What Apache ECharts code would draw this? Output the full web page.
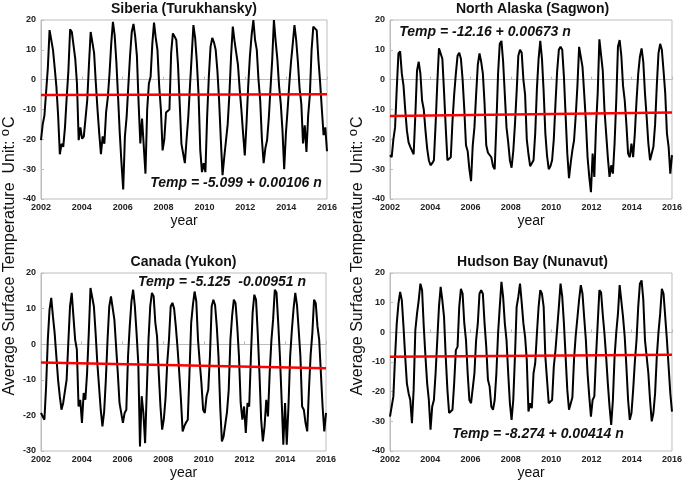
<!DOCTYPE html>
<html>
<head>
<meta charset="utf-8">
<script src="https://cdn.jsdelivr.net/npm/echarts@6/dist/echarts.min.js"></script>
<style>
  html, body { margin: 0; padding: 0; background: #fff; }
  #chart { width: 685px; height: 485px; }
</style>
</head>
<body>
<div id="chart"></div>
<script>
// monthly mean surface temperature, Jan 2002 .. Dec 2015 (one row per year)
const startYear = 2002;
const endYear = 2016;

const siberia = [
  -20.3, -15, -12, -11.4, 4, 16.6, 16, 10, 4, -2.4, -12, -25,
  -21.5, -22.5, -16, -6, 3, 16.9, 16, 15.5, 7, -1.3, -20.3, -16,
  -19.8, -19, -13, -6.9, 5, 16, 15.5, 9, -1, -10, -18, -25,
  -19, -21.5, -11, -6, 2, 12, 19.4, 15, 6, -5.8, -18, -28,
  -36.8, -19, -12.5, -2, 8, 16, 18.7, 14.5, 8, -8, -21.4, -13,
  -13, -31.5, -10, -1.3, 1, 12, 19.1, 14, 10, -2, -10, -23.7,
  -20, -11, -10.5, -10, 9, 15.5, 14.5, 13.3, 5, -8, -21.5, -22,
  -28, -20, -12.5, -2, 8, 18.3, 14, 6, -5, -23.7, -31, -28,
  -31, -12.5, 1, 11, 14, 12.5, 10, 3, -7, -20, -32, -26,
  -26, -15, -5, 8, 17.8, 13, 9, 5, -3, -10, -18, -25.4,
  -14.7, -2, 8, 15, 20, 13.3, 10, 0, -7, -20, -28, -23,
  -20.3, -13, -3, 6.6, 20, 13, 7, -2, -8, -17, -30, -18,
  -10, -1.3, 6, 12, 18.3, 13.3, 6, -3, -8, -21.4, -15.3, -24.2,
  -12, -5, 10, 17.8, 17.5, 16.5, 6.6, -1, -10, -18.6, -16, -24
];

const alaska = [
  -25.3, -26, -20, -16, -3, 8.8, 9.5, 2, -2, -10, -17, -21,
  -22.5, -22, -25, -12, 3, 6, 2, -7, -10, -17, -23, -27,
  -28.7, -28, -27, -15, -1.3, 10.5, 11, 7, -4, -16, -27, -27.5,
  -26, -14, -5, 2, 8, 9, 7, 0, -10, -22, -24, -30,
  -34, -22, -16, -5, 5, 8.8, 6, 2, -8, -22, -24.5, -25,
  -26, -29, -30, -15, 2, 12, 13, 6, -5, -16, -21, -27,
  -29.5, -24, -15, -4, 8, 10, 9, 0, -5, -20, -25, -29,
  -28, -27, -18, -3, 7, 13, 7, -4, -18, -25.5, -30, -29,
  -27, -20, -8, 3, 10, 11, 10, 1, -12, -24.8, -33, -28,
  -23.7, -20.3, -12, -2, 11, 11, 4.3, -4.6, -14, -26, -32.6, -37.7,
  -24.8, -32.6, -15.8, -4.6, 13.5, 13, 3, -10, -18, -26, -32.6, -28.7,
  -31.5, -21.4, -6.9, 11, 13.3, 8, -2, -6.9, -15, -24.8, -26, -21.4,
  -26, -18, -7, 2, 7.7, 10.5, 6, -4.6, -12.5, -21.4, -27, -26.5,
  -22.5, -15, -2, 8.8, 12, 10, 3, -4.6, -18, -22.5, -31.5, -25.3
];

const yukon = [
  -19.3, -20.3, -21.2, -11.8, 1.3, 9.7, 13, 7.8, 3.1, -3.4, -10, -14.6,
  -18.4, -16.5, -16.5, -10, 0.3, 10.6, 14.4, 7.8, 1.3, -1.5, -17.5, -15.6,
  -22.1, -13.7, -15.6, -8.1, 3.1, 15.8, 15.3, 10.6, 3.1, -5.3, -11.8, -18.4,
  -23.1, -19, -10, 1.3, 10.6, 13.4, 13, 6.9, -0.6, -8.1, -16.5, -16.5,
  -22.1, -19.3, -18.4, -3.4, 5, 12, 15.3, 10.6, 3.1, -5.3, -28.7, -14.6,
  -19.3, -27.8, -12.8, 1.3, 10.6, 14.4, 13.5, 6, 2.2, -8.1, -17.5, -24,
  -21, -15, -5, 1.3, 10.6, 11.6, 10, 5, -1, -8, -15.6, -24.5,
  -23, -22, -21.2, -8.1, 6, 11, 14.8, 12, 1.3, -5, -10.9, -18.4,
  -19.3, -14.6, -12.8, -3.4, 10.6, 12.5, 11, 5, -3.4, -17.5, -27.3, -25.9,
  -25.9, -19, -12.8, 1.3, 8, 12.5, 11.5, 5, -3.4, -16.5, -21.2, -17.5,
  -24.9, -16.5, -17.5, -3.4, 8.8, 13.9, 12.5, 3.1, -8.1, -21.2, -27.3, -23.1,
  -15.6, -20.3, -8.1, 1, 6.9, 15.3, 14.5, 6, -3.4, -15.6, -28.2, -16.5,
  -28.2, -17.5, -3.4, 4, 10, 14.4, 11, 4, -3.4, -17.5, -18.4, -22.1,
  -24.5, -12.8, -3, 3.1, 12.5, 11.5, 5, 1.3, -8.1, -17.5, -24.5, -19.3
];

const hudson = [
  -28.4, -28.9, -21.6, -8.2, 3, 9.7, 13.6, 10.8, 1.9, -8.2, -17.2, -20.5,
  -22.8, -30.6, -19.4, 0.7, 6.3, 10.8, 16.4, 14.2, 1.9, -8.2, -17.2, -22.8,
  -32.8, -25, -22.8, -13.8, -2.6, 8.6, 15.3, 10.8, 5.2, -8.2, -19.4, -27.2,
  -26.7, -26.1, -17.2, -6, -4.9, 8.6, 14.7, 13, 3, -2.6, -13.8, -22.8,
  -23.9, -23.9, -13.8, -2.6, 3, 13, 14.2, 13, 3, -4.9, -16, -18.3,
  -25, -26.1, -22.8, -13.8, -0.4, 8.6, 17, 11.9, 3, -2.6, -13.8, -23.9,
  -29.5, -22.8, -8.2, 8.6, 12, 16.4, 10, 3, -1.5, -9.3, -26.7, -23.9,
  -25.6, -13.8, -10.4, -0.4, 8.6, 14.2, 13, 8.6, -8.2, -16, -23.9, -23.3,
  -22.8, -11.6, -6, -5.4, 8.6, 16.4, 12, 3, -8.2, -19.4, -26.1, -26.7,
  -22, -9, -1, 5, 11, 15.9, 13, 5, -2.6, -13.8, -21.6, -28.4,
  -22.8, -21.6, -8.2, 3, 14.2, 13.5, 6, -0.4, -8.2, -17.2, -25, -31.2,
  -22.8, -8.2, 0, 6.3, 15.9, 15.3, 5.2, -1.5, -11.6, -22.8, -29.5, -27.2,
  -19.4, -10, -2.6, 8.6, 16.4, 17.5, 11, -2.6, -8.2, -13.8, -22.8, -30,
  -27.2, -20.5, -8.2, 0, 6.3, 14.7, 13, 5.2, -2.6, -11.6, -20.5, -26.7
];

// linear fits, Temp = a + b n  (n = month number 1..168)
const trendA = [-5.099, -12.16, -5.125, -8.274];
const trendB = [0.00106, 0.00673, -0.00951, 0.00414];

const titles = ['Siberia (Turukhansky)', 'North Alaska (Sagwon)', 'Canada (Yukon)', 'Hudson Bay (Nunavut)'];
const equations = ['Temp = -5.099 + 0.00106 n', 'Temp = -12.16 + 0.00673 n', 'Temp = -5.125  -0.00951 n', 'Temp = -8.274 + 0.00414 n'];
const yMin = [-40, -40, -30, -40];
const yMax = [20, 20, 20, 20];

const allSeries = [siberia, alaska, yukon, hudson];

// panel boxes (px)
const boxes = [
  { left: 41, top: 20, width: 286, height: 179 },
  { left: 390, top: 20, width: 285, height: 179 },
  { left: 41, top: 273, width: 285, height: 178 },
  { left: 390, top: 273, width: 285, height: 178 }
];
const eqPos = [[236, 183], [485, 32], [222, 282], [538, 434]];

const FONT = 'Liberation Sans, Arial, sans-serif';
const AXIS_COLOR = '#bdbdbd';

function toPoints(vals) {
  const step = (endYear - startYear) / (vals.length - 1);
  return vals.map((v, i) => [startYear + i * step, v]);
}

let grids = [], xAxes = [], yAxes = [], series = [], texts = [];

boxes.forEach((b, k) => {
  grids.push({
    left: b.left, top: b.top, width: b.width, height: b.height,
    show: true, borderColor: AXIS_COLOR, borderWidth: 1, backgroundColor: 'transparent'
  });
  xAxes.push({
    gridIndex: k, type: 'value', min: startYear, max: endYear, interval: 2,
    name: 'year', nameLocation: 'middle', nameGap: 15,
    nameTextStyle: { fontFamily: FONT, fontSize: 14, color: '#111' },
    axisLine: { lineStyle: { color: AXIS_COLOR } },
    axisTick: { inside: true, length: 3, lineStyle: { color: AXIS_COLOR } },
    axisLabel: { fontFamily: FONT, fontSize: 9, fontWeight: 'bold', color: '#222', margin: 4, formatter: v => String(v) },
    splitLine: { show: false }
  });
  yAxes.push({
    gridIndex: k, type: 'value', min: yMin[k], max: yMax[k], interval: 10,
    axisLine: { show: true, lineStyle: { color: AXIS_COLOR } },
    axisTick: { show: true, inside: true, length: 3, lineStyle: { color: AXIS_COLOR } },
    axisLabel: { fontFamily: FONT, fontSize: 9, fontWeight: 'bold', color: '#222', margin: 5 },
    splitLine: { show: false }
  });
  const pts = toPoints(allSeries[k]);
  series.push({
    type: 'line', xAxisIndex: k, yAxisIndex: k, data: pts,
    showSymbol: false, symbol: 'none', silent: true,
    lineStyle: { color: '#000', width: 2 }, z: 2
  });
  const n = allSeries[k].length;
  series.push({
    type: 'line', xAxisIndex: k, yAxisIndex: k,
    data: [[pts[0][0], trendA[k] + trendB[k] * 1], [pts[n - 1][0], trendA[k] + trendB[k] * n]],
    showSymbol: false, symbol: 'none', silent: true,
    lineStyle: { color: '#ff0000', width: 2.5 }, z: 3
  });
  texts.push({
    type: 'text', x: b.left + b.width / 2, y: b.top - 11,
    style: { text: titles[k], font: 'bold 14px ' + FONT, fill: '#111', align: 'center', verticalAlign: 'middle' }
  });
  texts.push({
    type: 'text', x: eqPos[k][0], y: eqPos[k][1], z: 10,
    style: { text: equations[k], font: 'italic bold 14px ' + FONT, fill: '#111', align: 'center', verticalAlign: 'middle' }
  });
});

// y axis labels, left and right columns
[10, 358].forEach(x => {
  texts.push({
    type: 'text', x: x, y: 145, rotation: Math.PI / 2,
    style: {
      text: 'Unit: {o|o}C', font: '16px ' + FONT, fill: '#111', align: 'center', verticalAlign: 'middle',
      rich: { o: { font: '13px ' + FONT, fill: '#111', padding: [0, 1, 9, 0] } }
    }
  });
  texts.push({
    type: 'text', x: x, y: 289, rotation: Math.PI / 2,
    style: { text: 'Average Surface Temperature', font: '16px ' + FONT, fill: '#111', align: 'center', verticalAlign: 'middle' }
  });
});

const chart = echarts.init(document.getElementById('chart'), null, { renderer: 'canvas' });
chart.setOption({
  animation: false,
  backgroundColor: '#fff',
  grid: grids,
  xAxis: xAxes,
  yAxis: yAxes,
  series: series,
  graphic: texts
});
</script>
</body>
</html>
